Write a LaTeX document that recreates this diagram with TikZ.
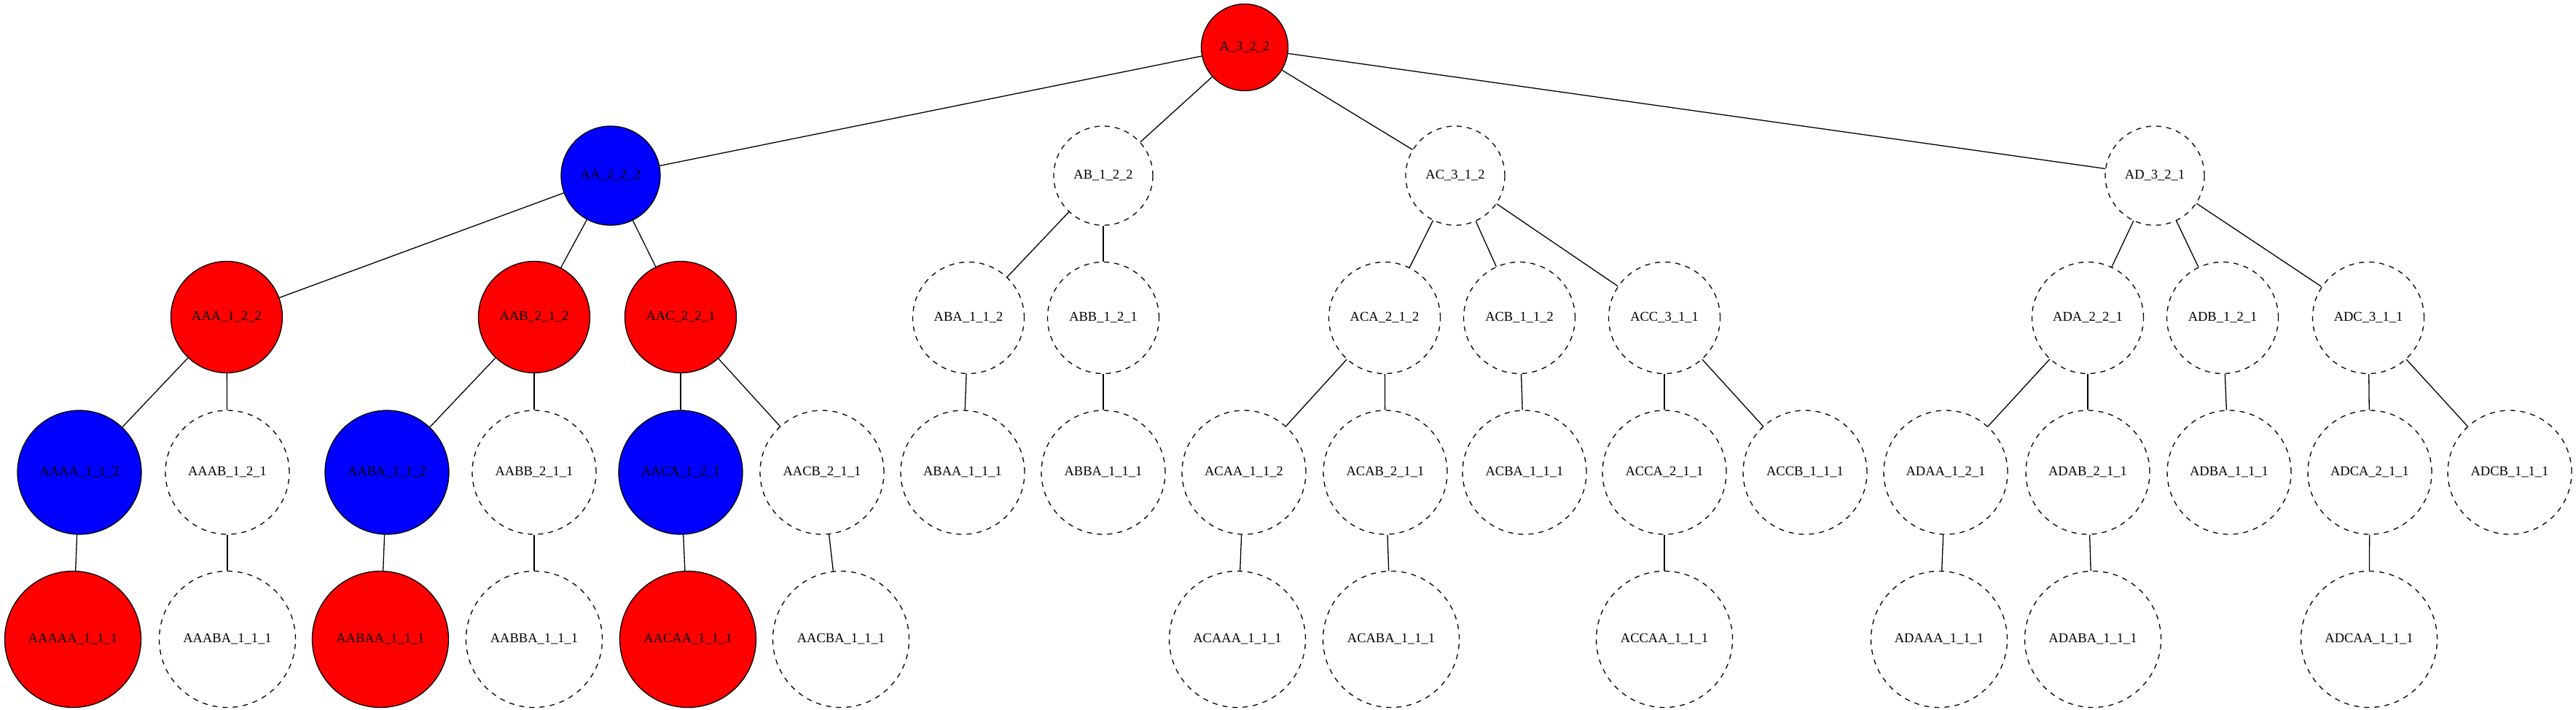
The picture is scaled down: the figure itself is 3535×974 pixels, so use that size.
\documentclass[tikz,border=0pt]{standalone}
\usepackage{fontspec}
\setmainfont{Liberation Serif}
\begin{document}
\begin{tikzpicture}[x=1pt,y=-1pt,
  nd/.style={circle,draw=black,line width=1.3pt,inner sep=0pt,font=\fontsize{18.5}{22}\selectfont},
  redn/.style={nd,fill=red},
  bluen/.style={nd,fill=blue},
  dshn/.style={nd,dash pattern=on 7pt off 7pt},
  Lseven/.style={minimum size=119pt},
  Leight/.style={minimum size=136pt},
  Lnine/.style={minimum size=153pt},
  Lten/.style={minimum size=170pt},
  Leleven/.style={minimum size=187pt},
  edge/.style={line width=1.3pt}]
\useasboundingbox (0,0) rectangle (3535,974);
% level 1
\node[redn,Lseven] (A) at (1708,65) {A\_3\_2\_2};
% level 2
\node[bluen,Leight] (AA) at (838,241) {AA\_2\_2\_2};
\node[dshn,Leight] (AB) at (1514,241) {AB\_1\_2\_2};
\node[dshn,Leight] (AC) at (1997,241) {AC\_3\_1\_2};
\node[dshn,Leight] (AD) at (2957,241) {AD\_3\_2\_1};
% level 3
\node[redn,Lnine] (AAA) at (311,435) {AAA\_1\_2\_2};
\node[redn,Lnine] (AAB) at (733,435) {AAB\_2\_1\_2};
\node[redn,Lnine] (AAC) at (934,435) {AAC\_2\_2\_1};
\node[dshn,Lnine] (ABA) at (1329,436) {ABA\_1\_1\_2};
\node[dshn,Lnine] (ABB) at (1514,436) {ABB\_1\_2\_1};
\node[dshn,Lnine] (ACA) at (1900,436) {ACA\_2\_1\_2};
\node[dshn,Lnine] (ACB) at (2085,436) {ACB\_1\_1\_2};
\node[dshn,Lnine] (ACC) at (2284,436) {ACC\_3\_1\_1};
\node[dshn,Lnine] (ADA) at (2865,436) {ADA\_2\_2\_1};
\node[dshn,Lnine] (ADB) at (3050,436) {ADB\_1\_2\_1};
\node[dshn,Lnine] (ADC) at (3250,436) {ADC\_3\_1\_1};
% level 4
\node[bluen,Lten] (AAAA) at (109,648) {AAAA\_1\_1\_2};
\node[dshn,Lten] (AAAB) at (312,648) {AAAB\_1\_2\_1};
\node[bluen,Lten] (AABA) at (531,648) {AABA\_1\_1\_2};
\node[dshn,Lten] (AABB) at (733,648) {AABB\_2\_1\_1};
\node[bluen,Lten] (AACA) at (934,648) {AACA\_1\_2\_1};
\node[dshn,Lten] (AACB) at (1128,648) {AACB\_2\_1\_1};
\node[dshn,Lten] (ABAA) at (1321,648) {ABAA\_1\_1\_1};
\node[dshn,Lten] (ABBA) at (1514,648) {ABBA\_1\_1\_1};
\node[dshn,Lten] (ACAA) at (1707,648) {ACAA\_1\_1\_2};
\node[dshn,Lten] (ACAB) at (1901,648) {ACAB\_2\_1\_1};
\node[dshn,Lten] (ACBA) at (2092,648) {ACBA\_1\_1\_1};
\node[dshn,Lten] (ACCA) at (2284,648) {ACCA\_2\_1\_1};
\node[dshn,Lten] (ACCB) at (2477,648) {ACCB\_1\_1\_1};
\node[dshn,Lten] (ADAA) at (2670,648) {ADAA\_1\_2\_1};
\node[dshn,Lten] (ADAB) at (2865,648) {ADAB\_2\_1\_1};
\node[dshn,Lten] (ADBA) at (3059,648) {ADBA\_1\_1\_1};
\node[dshn,Lten] (ADCA) at (3252,648) {ADCA\_2\_1\_1};
\node[dshn,Lten] (ADCB) at (3444,648) {ADCB\_1\_1\_1};
% level 5
\node[redn,Leleven] (AAAAA) at (100,877) {AAAAA\_1\_1\_1};
\node[dshn,Leleven] (AAABA) at (312,877) {AAABA\_1\_1\_1};
\node[redn,Leleven] (AABAA) at (522,877) {AABAA\_1\_1\_1};
\node[dshn,Leleven] (AABBA) at (733,877) {AABBA\_1\_1\_1};
\node[redn,Leleven] (AACAA) at (944,877) {AACAA\_1\_1\_1};
\node[dshn,Leleven] (AACBA) at (1154,877) {AACBA\_1\_1\_1};
\node[dshn,Leleven] (ACAAA) at (1698,877) {ACAAA\_1\_1\_1};
\node[dshn,Leleven] (ACABA) at (1909,877) {ACABA\_1\_1\_1};
\node[dshn,Leleven] (ACCAA) at (2284,877) {ACCAA\_1\_1\_1};
\node[dshn,Leleven] (ADAAA) at (2661,877) {ADAAA\_1\_1\_1};
\node[dshn,Leleven] (ADABA) at (2872,877) {ADABA\_1\_1\_1};
\node[dshn,Leleven] (ADCAA) at (3251,877) {ADCAA\_1\_1\_1};
% edges
\foreach \p/\c in {A/AA,A/AB,A/AC,A/AD,
  AA/AAA,AA/AAB,AA/AAC,AAA/AAAA,AAA/AAAB,AAB/AABA,AAB/AABB,AAC/AACA,AAC/AACB,
  AAAA/AAAAA,AAAB/AAABA,AABA/AABAA,AABB/AABBA,AACA/AACAA,AACB/AACBA,
  AB/ABA,AB/ABB,ABA/ABAA,ABB/ABBA,
  AC/ACA,AC/ACB,AC/ACC,ACA/ACAA,ACA/ACAB,ACAA/ACAAA,ACAB/ACABA,ACB/ACBA,
  ACC/ACCA,ACC/ACCB,ACCA/ACCAA,
  AD/ADA,AD/ADB,AD/ADC,ADA/ADAA,ADA/ADAB,ADAA/ADAAA,ADAB/ADABA,ADB/ADBA,
  ADC/ADCA,ADC/ADCB,ADCA/ADCAA}
  \draw[edge] (\p) -- (\c);
\end{tikzpicture}
\end{document}
